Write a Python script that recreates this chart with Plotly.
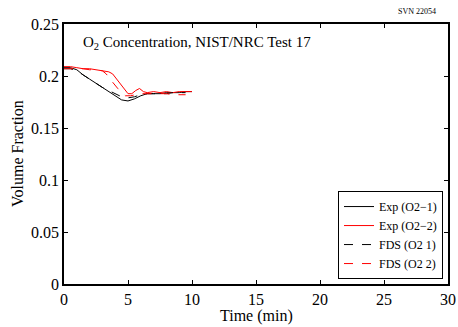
import plotly.graph_objects as go

t_exp1 = [0, 0.5, 1, 1.5, 2, 2.5, 3, 3.5, 4, 4.5, 5, 5.5, 6, 6.5, 7, 7.5, 8, 8.5, 9, 9.5, 10]
v_exp1 = [0.208, 0.208, 0.206, 0.201, 0.197, 0.193, 0.189, 0.185, 0.181, 0.177, 0.176, 0.178, 0.181,
          0.183, 0.183, 0.183, 0.184, 0.184, 0.184, 0.185, 0.185]

t_exp2 = [0, 0.5, 1, 1.5, 2, 2.5, 3, 3.5, 3.8, 4.1, 4.4, 4.7, 5, 5.3, 5.6, 5.9, 6.2, 6.5, 7, 7.5, 8,
          8.5, 9, 9.5, 10]
v_exp2 = [0.209, 0.209, 0.208, 0.207, 0.207, 0.206, 0.205, 0.204, 0.202, 0.197, 0.192, 0.187, 0.183,
          0.183, 0.186, 0.188, 0.185, 0.184, 0.185, 0.184, 0.185, 0.184, 0.185, 0.185, 0.185]

t_fds1 = [0, 0.5, 1, 1.5, 2, 2.5, 3, 3.5, 4, 4.5, 5, 5.5, 6, 6.5, 7, 7.5, 8, 8.5, 9, 9.5]
v_fds1 = [0.207, 0.207, 0.205, 0.201, 0.197, 0.193, 0.189, 0.186, 0.183, 0.180, 0.179, 0.180, 0.182,
          0.183, 0.183, 0.183, 0.183, 0.184, 0.184, 0.184]

t_fds2 = [0, 0.5, 1, 1.5, 2, 2.5, 3, 3.3, 3.6, 3.9, 4.2, 4.5, 4.8, 5.2, 5.6, 6, 6.5, 7, 7.5, 8, 8.5, 9, 9.5]
v_fds2 = [0.207, 0.207, 0.207, 0.207, 0.206, 0.206, 0.205, 0.202, 0.197, 0.192, 0.188, 0.184, 0.181,
          0.181, 0.182, 0.183, 0.183, 0.183, 0.183, 0.183, 0.182, 0.182, 0.182]

x_ticks = [0, 5, 10, 15, 20, 25, 30]
y_ticks = [0, 0.05, 0.1, 0.15, 0.2, 0.25]
y_labels = ["0", "0.05", "0.1", "0.15", "0.2", "0.25"]

FONT = "Liberation Serif, Times New Roman, serif"

fig = go.Figure()
fig.add_trace(go.Scatter(x=t_exp1, y=v_exp1, mode="lines", name="Exp (O2\u22121)",
                         line=dict(color="black", width=1)))
fig.add_trace(go.Scatter(x=t_exp2, y=v_exp2, mode="lines", name="Exp (O2\u22122)",
                         line=dict(color="red", width=1)))
fig.add_trace(go.Scatter(x=t_fds1, y=v_fds1, mode="lines", name="FDS (O2 1)",
                         line=dict(color="black", width=1, dash="dash")))
fig.add_trace(go.Scatter(x=t_fds2, y=v_fds2, mode="lines", name="FDS (O2 2)",
                         line=dict(color="red", width=1, dash="dash")))

axis_common = dict(showline=True, linecolor="black", linewidth=1.5, mirror="ticks",
                   ticks="inside", ticklen=4, tickcolor="black", showgrid=False, zeroline=False,
                   automargin=False, ticklabelstandoff=0,
                   tickfont=dict(family=FONT, size=16, color="black"))

fig.update_layout(
    width=458, height=327,
    margin=dict(l=64, r=10, t=24, b=43, autoexpand=False),
    paper_bgcolor="white", plot_bgcolor="white",
    font=dict(family=FONT, color="black"),
    xaxis=dict(range=[0, 30], tickvals=x_ticks, **axis_common),
    yaxis=dict(range=[0, 0.25], tickvals=y_ticks, ticktext=y_labels, **axis_common),
    legend=dict(x=0.987, y=0.019, xanchor="right", yanchor="bottom",
                bordercolor="black", borderwidth=1, bgcolor="white",
                font=dict(family=FONT, size=12, color="black"), tracegroupgap=0,
                itemwidth=30),
    showlegend=True,
    annotations=[
        dict(text="O<sub>2</sub> Concentration, NIST/NRC Test 17", x=0.045, y=0.925,
             xref="paper", yref="paper", xanchor="left", yanchor="middle", showarrow=False,
             font=dict(family=FONT, size=15, color="black")),
        dict(text="SVN 22054", x=0.92, y=1.0, xref="paper", yref="paper", xanchor="center",
             yanchor="bottom", yshift=6, showarrow=False,
             font=dict(family=FONT, size=8, color="black")),
        dict(text="Time (min)", x=0.5, y=(284 - 316) / 260, xref="paper", yref="paper",
             showarrow=False, xanchor="center", yanchor="middle",
             font=dict(family=FONT, size=16, color="black")),
        dict(text="Volume Fraction", x=(17 - 64) / 384, y=0.5, xref="paper", yref="paper",
             showarrow=False, xanchor="center", yanchor="middle", textangle=-90,
             font=dict(family=FONT, size=16, color="black")),
    ],
)

fig.write_html("out.html", config={"displayModeBar": False},
               post_script="document.body.style.margin='0';")
